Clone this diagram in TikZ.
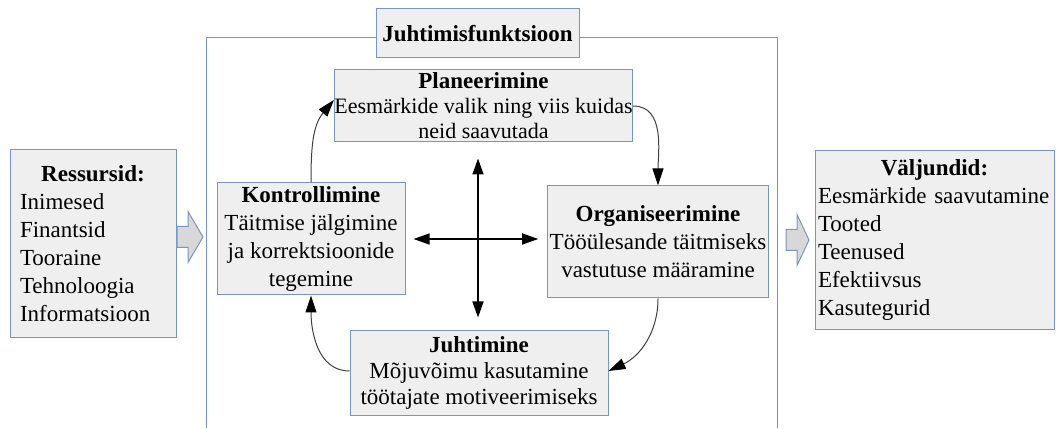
\documentclass[tikz,border=0pt]{standalone}
\usepackage{fontspec}
\setmainfont{Liberation Serif}
\usetikzlibrary{arrows.meta}

\definecolor{raamjoon}{RGB}{120,150,196}
\definecolor{kastitaust}{RGB}{239,239,239}
\definecolor{nooletaust}{RGB}{216,216,216}

\tikzset{
  funcbox/.style={draw=raamjoon, fill=kastitaust, line width=1pt, align=center, inner sep=2pt,
    font=\fontsize{23}{28}\selectfont},
  listbox/.style={draw=raamjoon, fill=kastitaust, line width=1pt, align=left, inner ysep=2pt,
    font=\fontsize{23}{28}\selectfont},
  frameline/.style={draw=raamjoon, line width=1pt},
  blockarrow/.style={draw=raamjoon, fill=nooletaust, line width=1pt},
  curvearrow/.style={draw=black!75, line width=1pt, -{Triangle[length=17pt,width=11pt,color=black]}},
  crossarrow/.style={black, line width=1.5pt, {Triangle[length=16pt,width=11pt]}-{Triangle[length=16pt,width=11pt]}}
}

\begin{document}
\begin{tikzpicture}[x=1pt,y=1pt]
\useasboundingbox (0,0) rectangle (1056,428);

% pealkiri ja raam
\node[funcbox, minimum width=203pt, minimum height=49pt] (title) at (477.5,394.5) {\textbf{Juhtimisfunktsioon}};
\coordinate (fl) at (206,0);
\coordinate (fr) at (777,0);
\draw[frameline] (fl) |- ([yshift=-4pt]title.west); % vasak
\draw[frameline] ([yshift=-4pt]title.east) -| (fr); % parem

% neli funktsiooni
\node[funcbox, inner xsep=0pt, minimum width=297pt, minimum height=72pt, font=\fontsize{22}{25}\selectfont] (plan) at (483.5,322)
  {{\fontsize{23}{25}\selectfont\textbf{Planeerimine}}\\Eesmärkide valik ning viis kuidas\\neid saavutada};
\node[funcbox, minimum width=218pt, minimum height=112pt] (org) at (658,186)
  {\textbf{Organiseerimine}\\Tööülesande täitmiseks\\vastutuse määramine};
\node[funcbox, minimum width=258pt, minimum height=84pt, font=\fontsize{23}{26}\selectfont] (juht) at (479,55)
  {\textbf{Juhtimine}\\Mõjuvõimu kasutamine\\töötajate motiveerimiseks};
\node[funcbox, minimum width=188pt, minimum height=112pt] (kontr) at (311,189)
  {\textbf{Kontrollimine}\\Täitmise jälgimine\\ja korrektsioonide\\tegemine};

% sisend ja väljund
\node[listbox, text width=146pt, inner xsep=10pt, minimum height=188pt] (res) at (93,184)
  {\makebox[146pt]{\textbf{Ressursid:}}\\Inimesed\\Finantsid\\Tooraine\\Tehnoloogia\\Informatsioon};
\node[listbox, text width=233pt, inner xsep=3pt, minimum height=179pt] (valj) at (934.5,187.5)
  {\makebox[233pt]{\textbf{Väljundid:}}\\\mbox{Eesmärkide saavutamine}\\Tooted\\Teenused\\Efektiivsus\\Kasutegurid};

% plokknooled
\coordinate (inarr) at (177,191);
\coordinate (outarr) at (786,188);
\draw[blockarrow] (inarr) ++(0,-10.5) -- ++(11,0) -- ++(0,-15) -- ++(15,25.5) -- ++(-15,25.5) -- ++(0,-15) -- ++(-11,0) -- cycle;
\draw[blockarrow] (outarr) ++(0,-10.5) -- ++(11,0) -- ++(0,-15) -- ++(12,25.5) -- ++(-12,25.5) -- ++(0,-15) -- ++(-11,0) -- cycle;

% ring
\draw[curvearrow] (kontr.north) to[out=90, in=230] ([yshift=6pt]plan.west);
\draw[curvearrow] (plan.east) to[out=0, in=90] (org.north);
\draw[curvearrow] (org.south) to[out=-90, in=25] ([yshift=2pt]juht.east);
\draw[curvearrow] ([yshift=2pt]juht.west) to[out=180, in=-90] (kontr.south);

% rist keskel
\coordinate (mid) at (478,189);
\draw[crossarrow] (mid -| kontr.east) -- (mid -| org.west) [shorten <=8pt, shorten >=9pt];
\draw[crossarrow] (mid |- plan.south) -- (mid |- juht.north) [shorten <=16pt, shorten >=13pt];

\end{tikzpicture}
\end{document}
